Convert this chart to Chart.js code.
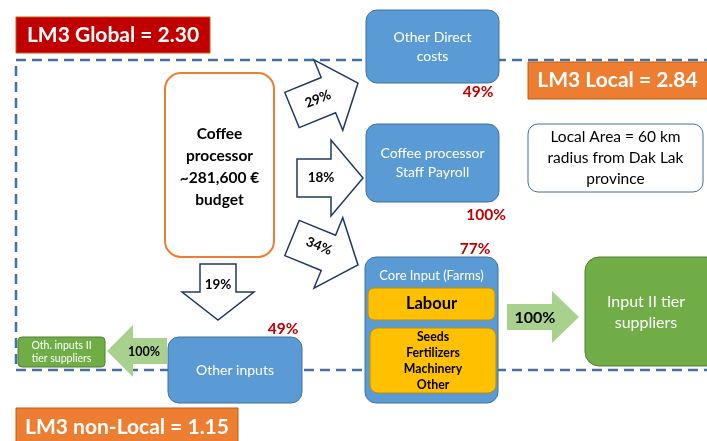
<!DOCTYPE html>
<html>
<head>
<meta charset="utf-8">
<script src="https://cdn.jsdelivr.net/npm/chart.js@4"></script>
<style>
html,body{margin:0;padding:0;background:#fff;}
#c{display:block;}
</style>
</head>
<body>
<canvas id="c" width="707" height="441"></canvas>
<script>
// ---- data ----
const lm3Names = ['LM3 Global', 'LM3 Local', 'LM3 non-Local'];
const lm3Values = [2.30, 2.84, 1.15];
const budget = 281600;
const spendNames = ['Other Direct\ncosts', 'Coffee processor\nStaff Payroll', 'Core Input (Farms)', 'Other inputs'];
const budgetShares = [29, 18, 34, 19];     // % of processor budget
const localShares = [49, 100, 77, 49];     // % spent locally
const supplierNames = ['Input II tier\nsuppliers', 'Oth. inputs II\ntier suppliers'];
const supplierShares = [100, 100];
const coreItems = ['Labour', 'Seeds', 'Fertilizers', 'Machinery', 'Other'];
const localAreaNote = ['Local Area = 60 km', 'radius from Dak Lak', 'province'];

// ---- layout (diagram units = pixels of the 707x441 scene) ----
const L = {
  global: [16, 17, 210, 53],
  local: [528, 62, 720, 99],
  nonlocal: [16, 408, 238, 450],
  frame: [16, 60, 730, 370],
  proc: [165, 73, 274, 257],
  spend: [[366, 10, 499, 83], [366, 124, 499, 202], [365, 257, 498, 403], [168, 337, 302, 403]],
  pct: [[478, 92], [486, 215], [475, 249], [283, 329]],
  arrows: [
    {tail: [292, 110], tip: [358, 83], txt: [318, 99]},
    {tail: [297, 178], tip: [363, 178], txt: [321, 178]},
    {tail: [292, 238], tip: [358, 265], txt: [319, 246]},
    {tail: [218, 264], tip: [218, 320], txt: [218, 285]}
  ],
  supplier: [[585, 257, 720, 366], [18, 337, 105, 367]],
  gArrows: [{tail: [507, 317], tip: [579, 317], txt: [535, 318]}, {tail: [167, 351], tip: [107, 351], txt: [144, 352]}],
  note: [528, 124, 703, 192]
};

const F = 'Lato, "Open Sans", sans-serif';

const diagram = {
  id: 'diagram',
  afterDraw(chart) {
    const ctx = chart.ctx, xs = chart.scales.x, ys = chart.scales.y;
    const X = v => xs.getPixelForValue(v), Y = v => ys.getPixelForValue(v);

    function rrect(b, r, fill, stroke, lw) {
      const x0 = X(b[0]), y0 = Y(b[1]), x1 = X(b[2]), y1 = Y(b[3]);
      ctx.beginPath();
      ctx.roundRect(x0, y0, x1 - x0, y1 - y0, r);
      if (fill) { ctx.fillStyle = fill; ctx.fill(); }
      if (stroke) { ctx.strokeStyle = stroke; ctx.lineWidth = lw || 1; ctx.stroke(); }
    }
    function text(s, x, y, font, color, rot) {
      ctx.save();
      ctx.translate(X(x), Y(y));
      if (rot) ctx.rotate(rot);
      ctx.font = font; ctx.fillStyle = color;
      ctx.textAlign = 'center'; ctx.textBaseline = 'middle';
      ctx.fillText(s, 0, 0);
      ctx.restore();
    }
    function lines(arr, x, yc, gap, font, color) {
      const y0 = yc - (arr.length - 1) * gap / 2;
      arr.forEach((s, i) => text(s, x, y0 + i * gap, font, color));
    }
    function arrow(a, bh, hh, hl, fill, stroke) {
      const dx = a.tip[0] - a.tail[0], dy = a.tip[1] - a.tail[1];
      const len = Math.hypot(dx, dy), ux = dx / len, uy = dy / len, nx = -uy, ny = ux;
      const bx = a.tip[0] - ux * hl, by = a.tip[1] - uy * hl;
      const pts = [
        [a.tail[0] + nx * bh, a.tail[1] + ny * bh],
        [bx + nx * bh, by + ny * bh],
        [bx + nx * hh, by + ny * hh],
        a.tip,
        [bx - nx * hh, by - ny * hh],
        [bx - nx * bh, by - ny * bh],
        [a.tail[0] - nx * bh, a.tail[1] - ny * bh]
      ];
      ctx.beginPath();
      pts.forEach((p, i) => i ? ctx.lineTo(X(p[0]), Y(p[1])) : ctx.moveTo(X(p[0]), Y(p[1])));
      ctx.closePath();
      ctx.fillStyle = fill; ctx.fill();
      if (stroke) { ctx.strokeStyle = stroke; ctx.lineWidth = 1.5; ctx.lineJoin = 'miter'; ctx.stroke(); }
      let ang = Math.atan2(dy, dx);
      if (Math.abs(ang) > Math.PI / 2 + 0.01) ang = 0;
      if (Math.abs(Math.abs(ang) - Math.PI / 2) < 0.01) ang = 0;
      return ang;
    }

    ctx.save();
    // dashed local frame
    const f = L.frame;
    ctx.setLineDash([10, 6]);
    ctx.strokeStyle = '#41719C'; ctx.lineWidth = 2.5;
    ctx.strokeRect(X(f[0]), Y(f[1]), X(f[2]) - X(f[0]), Y(f[3]) - Y(f[1]));
    ctx.setLineDash([]);

    // LM3 labels
    const lm3Fill = ['#C00000', '#ED7D31', '#ED7D31'];
    [L.global, L.local, L.nonlocal].forEach((b, i) => {
      rrect(b, 0, lm3Fill[i], '#C55A11', 1);
      const xr = Math.min(b[2], 707);
      text(lm3Names[i] + ' = ' + lm3Values[i].toFixed(2), (b[0] + xr) / 2, i === 2 ? 427 : (b[1] + b[3]) / 2, 'bold 21px ' + F, '#fff');
    });

    // processor
    rrect(L.proc, 16, '#fff', '#ED7D31', 2);
    lines(['Coffee', 'processor', '~' + budget.toLocaleString('en-US') + ' €', 'budget'], 219.5, 167, 22, 'bold 15.5px ' + F, '#000');

    // flow arrows
    L.arrows.forEach((a, i) => {
      const ang = arrow(a, i === 3 ? 18 : 19, i === 3 ? 36 : 38, i === 3 ? 28 : 32, '#fff', '#203864');
      text(budgetShares[i] + '%', a.txt[0], a.txt[1], 'bold 13.5px ' + F, '#000', ang);
    });

    // spending boxes
    L.spend.forEach((b, i) => {
      rrect(b, 11, '#5B9BD5', '#41719C', 1);
      const cx = (b[0] + b[2]) / 2;
      if (i === 2) {
        text(spendNames[i], cx, 276, '13px ' + F, '#fff');
      } else {
        const ls = spendNames[i].split('\n');
        lines(ls, cx, (b[1] + b[3]) / 2, 19, '14px ' + F, '#fff');
      }
      text(localShares[i] + '%', L.pct[i][0], L.pct[i][1], 'bold 15.5px ' + F, '#C00000');
    });

    // core input items
    rrect([368, 288, 495, 320], 6, '#FFC000', '#BF9000', 1);
    text(coreItems[0], 431.5, 304, 'bold 16.5px ' + F, '#000');
    rrect([370, 328, 496, 393], 8, '#FFC000', '#BF9000', 1);
    lines(coreItems.slice(1), 433, 361, 16, 'bold 12.3px ' + F, '#000');

    // supplier boxes and green arrows
    L.supplier.forEach((b, i) => {
      rrect(b, i === 0 ? 14 : 4, '#70AD47', '#507E32', 1);
      const xr = Math.min(b[2], 707);
      const ls = supplierNames[i].split('\n');
      if (i === 0) lines(ls, (b[0] + xr) / 2, 312, 21, '16px ' + F, '#fff');
      else lines(ls, (b[0] + b[2]) / 2, 352, 13, '10.5px ' + F, '#fff');
    });
    L.gArrows.forEach((a, i) => {
      if (i === 0) arrow(a, 13, 26, 27, '#A9D18E', null);
      else arrow(a, 13, 26, 26, '#A9D18E', null);
      text(supplierShares[i] + '%', a.txt[0], a.txt[1], (i === 0 ? 'bold 16px ' : 'bold 12.5px ') + F, '#000');
    });

    // local area note
    rrect(L.note, 10, '#fff', '#41719C', 1);
    lines(localAreaNote, 615.5, 158, 21, '15.5px ' + F, '#000');

    ctx.restore();
  }
};

new Chart(document.getElementById('c'), {
  type: 'scatter',
  data: { datasets: [{ data: [], showLine: false }] },
  options: {
    responsive: false,
    devicePixelRatio: 1,
    animation: false,
    layout: { padding: 0 },
    plugins: { legend: { display: false }, tooltip: { enabled: false } },
    scales: {
      x: { type: 'linear', min: 0, max: 707, display: false },
      y: { type: 'linear', min: 0, max: 441, reverse: true, display: false }
    }
  },
  plugins: [diagram]
});
</script>
</body>
</html>
